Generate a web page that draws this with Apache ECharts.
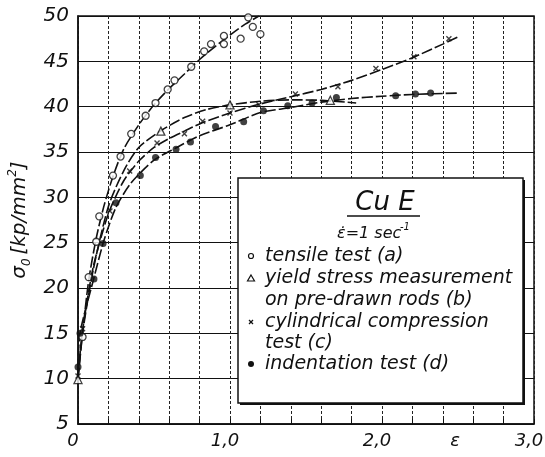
<!DOCTYPE html>
<html>
<head>
<meta charset="utf-8">
<script src="https://cdn.jsdelivr.net/npm/echarts@6/dist/echarts.min.js"></script>
<style>
  html, body { margin: 0; padding: 0; background: #fff; }
  #chart { width: 545px; height: 457px; }
</style>
</head>
<body>
<div id="chart"></div>
<script>
const tensilePts = [[0.03, 14.6], [0.07, 21.2], [0.12, 25.1], [0.14, 27.9], [0.23, 32.4], [0.28, 34.5],
  [0.35, 37.0], [0.445, 39.0], [0.51, 40.4], [0.59, 41.9], [0.635, 42.9], [0.745, 44.4], [0.83, 46.1],
  [0.875, 46.9], [0.96, 46.9], [0.96, 47.8], [1.07, 47.5], [1.12, 49.85], [1.15, 48.8], [1.2, 48.0]]
const yieldPts = [[0, 9.9], [0.545, 37.3], [1.0, 40.2], [1.66, 40.7]]
const compressionPts = [[0, 10.3], [0.03, 15.5], [0.21, 28.5], [0.34, 32.9], [0.52, 36.0], [0.70, 37.0],
  [0.82, 38.4], [1.0, 39.3], [1.19, 40.2], [1.43, 41.4], [1.71, 42.2], [1.96, 44.2], [2.21, 45.5], [2.44, 47.5]]
const indentationPts = [[0, 11.3], [0.013, 15.0], [0.105, 21.0], [0.165, 24.9], [0.25, 29.4], [0.41, 32.4],
  [0.51, 34.4], [0.645, 35.3], [0.74, 36.1], [0.905, 37.8], [1.09, 38.35], [1.22, 39.55], [1.38, 40.1],
  [1.54, 40.4], [1.70, 41.0], [2.09, 41.2], [2.22, 41.4], [2.32, 41.5]]

// hand drawn fit curves
const tensileCurve = [[0, 10], [0.03, 15], [0.07, 20.8], [0.12, 25.5], [0.17, 29], [0.23, 32.3], [0.3, 35.3],
  [0.4, 38.0], [0.5, 40.2], [0.6, 42.0], [0.7, 43.6], [0.8, 45.2], [0.9, 46.6], [1.0, 47.9], [1.1, 49.1], [1.19, 50]]
const yieldCurve = [[0, 10], [0.03, 15], [0.1, 22], [0.2, 29.0], [0.3, 32.9], [0.4, 35.5], [0.55, 37.4],
  [0.7, 38.8], [0.85, 39.7], [1.0, 40.2], [1.2, 40.6], [1.4, 40.75], [1.6, 40.7], [1.83, 40.4]]
const compressionCurve = [[0, 10.3], [0.03, 15.3], [0.1, 22.3], [0.2, 28.2], [0.3, 31.8], [0.4, 34.0],
  [0.5, 35.5], [0.6, 36.5], [0.7, 37.3], [0.8, 38.1], [1.0, 39.3], [1.2, 40.3], [1.4, 41.1], [1.6, 41.9],
  [1.8, 42.9], [2.0, 44.1], [2.2, 45.4], [2.4, 46.9], [2.5, 47.7]]
const indentationCurve = [[0, 11], [0.013, 15], [0.1, 20.8], [0.17, 25.2], [0.25, 28.9], [0.35, 31.6],
  [0.5, 34.1], [0.65, 35.5], [0.8, 36.8], [1.0, 38.0], [1.2, 39.35], [1.4, 39.9], [1.6, 40.5], [1.8, 40.9],
  [2.0, 41.15], [2.2, 41.35], [2.5, 41.5]]

const legendLines = ['tensile test (a)', 'yield stress measurement', 'on pre-drawn rods (b)',
  'cylindrical compression', 'test (c)', 'indentation test (d)']

const FONT = 'DejaVu Sans'
const crossPath = 'path://M0,0L10,10M10,0L0,10'

const chart = echarts.init(document.getElementById('chart'))

function curve(data) {
  return {
    type: 'line', data, smooth: 0.25, showSymbol: false, silent: true,
    lineStyle: { color: '#111', width: 1.6, type: [11, 3] }, z: 2
  }
}
function points(data, symbol, size, style) {
  return { type: 'scatter', data, symbol, symbolSize: size, itemStyle: style, z: 3 }
}

const isWhole = v => Math.abs(v - Math.round(v)) < 1e-6

// legend box, drawn above the plot
const lineTops = [256, 278, 300, 322, 343, 364]
const legendGraphic = [
  { type: 'rect', shape: { x: 240, y: 180, width: 285, height: 225 }, style: { fill: '#111' } },
  { type: 'rect', shape: { x: 238, y: 178, width: 285, height: 225 }, style: { fill: '#fff', stroke: '#111', lineWidth: 1.5 } },
  { type: 'text', x: 385, y: 203, style: { text: 'Cu E', font: 'italic 26px "' + FONT + '"', fill: '#111', align: 'center', verticalAlign: 'middle' } },
  { type: 'line', shape: { x1: 347, y1: 216, x2: 420, y2: 216 }, style: { stroke: '#111', lineWidth: 1.3 } },
  { type: 'text', x: 337, y: 234, style: { text: '\u03b5\u0307=1 sec', font: 'italic 16px "' + FONT + '"', fill: '#111', verticalAlign: 'middle' } },
  { type: 'text', x: 400, y: 227, style: { text: '-1', font: 'italic 10px "' + FONT + '"', fill: '#111', verticalAlign: 'middle' } },
  { type: 'circle', shape: { cx: 251, cy: 256, r: 2.5 }, style: { fill: '#fff', stroke: '#111', lineWidth: 1.2 } },
  { type: 'polygon', shape: { points: [[251, 275], [254.5, 281], [247.5, 281]] }, style: { fill: '#fff', stroke: '#111', lineWidth: 1.2 } },
  { type: 'polyline', shape: { points: [[249, 320], [253, 324]] }, style: { stroke: '#111', lineWidth: 1.2 } },
  { type: 'polyline', shape: { points: [[253, 320], [249, 324]] }, style: { stroke: '#111', lineWidth: 1.2 } },
  { type: 'circle', shape: { cx: 251, cy: 364, r: 3 }, style: { fill: '#111' } }
].concat(legendLines.map((t, i) => ({
  type: 'text', x: 265, y: lineTops[i],
  style: { text: t, font: 'italic 19px "' + FONT + '"', fill: '#111', verticalAlign: 'middle' }
}))).map(g => Object.assign(g, { z: 20 }))

chart.setOption({
  animation: false,
  backgroundColor: '#fff',
  textStyle: { fontFamily: FONT },
  grid: {
    left: 78, right: 11, top: 16, bottom: 33, outerBoundsMode: 'none',
    show: true, borderColor: '#111', borderWidth: 1.5
  },
  xAxis: [{
    type: 'value', min: 0, max: 3, interval: 0.2, position: 'bottom',
    axisLine: { lineStyle: { color: '#111', width: 1.5 } },
    axisTick: { inside: true, length: 5, lineStyle: { color: '#111' } },
    splitLine: { lineStyle: { color: '#222', width: 1, type: [3, 2] } },
    axisLabel: {
      color: '#111', fontSize: 18, fontStyle: 'italic', margin: 8, padding: [0, 10, 0, 0],
      alignMinLabel: 'center', alignMaxLabel: 'center',
      formatter: v => isWhole(v) ? (v === 0 ? '0' : Math.round(v) + ',0') : ''
    }
  }, {
    type: 'value', min: 0, max: 3, interval: 0.5, position: 'bottom',
    axisLine: { show: false }, axisTick: { show: false }, splitLine: { show: false },
    axisLabel: { color: '#111', fontSize: 18, fontStyle: 'italic', margin: 8, padding: [0, 6, 0, 0],
      formatter: v => Math.abs(v - 2.5) < 1e-6 ? '\u03b5' : '' }
  }],
  yAxis: {
    type: 'value', min: 5, max: 50, interval: 5,
    name: '{s|\u03c3}{sub|0} {s|[kp/mm}{sup|2}{s|]}',
    nameLocation: 'middle', nameGap: 43, nameRotate: 90,
    nameTextStyle: {
      rich: {
        s: { fontSize: 20, fontStyle: 'italic', color: '#111', fontFamily: FONT, lineHeight: 26, verticalAlign: 'middle' },
        sub: { fontSize: 12, fontStyle: 'italic', color: '#111', fontFamily: FONT, lineHeight: 26, verticalAlign: 'bottom' },
        sup: { fontSize: 12, fontStyle: 'italic', color: '#111', fontFamily: FONT, lineHeight: 26, verticalAlign: 'top' }
      }
    },
    axisLine: { show: true, lineStyle: { color: '#111', width: 1.5 } },
    axisTick: { show: false },
    splitLine: { lineStyle: { color: '#111', width: 1.2 } },
    axisLabel: { color: '#111', fontSize: 20, fontStyle: 'italic', margin: 9 }
  },
  series: [
    curve(tensileCurve), curve(yieldCurve), curve(compressionCurve), curve(indentationCurve),
    points(tensilePts, 'circle', 7, { color: '#fff', borderColor: '#111', borderWidth: 1.3 }),
    points(yieldPts, 'triangle', 8, { color: '#fff', borderColor: '#111', borderWidth: 1.3 }),
    points(compressionPts, crossPath, 5, { color: '#111', borderColor: '#111', borderWidth: 1.4 }),
    points(indentationPts, 'circle', 7, { color: '#111' })
  ],
  graphic: legendGraphic
})
</script>
</body>
</html>
